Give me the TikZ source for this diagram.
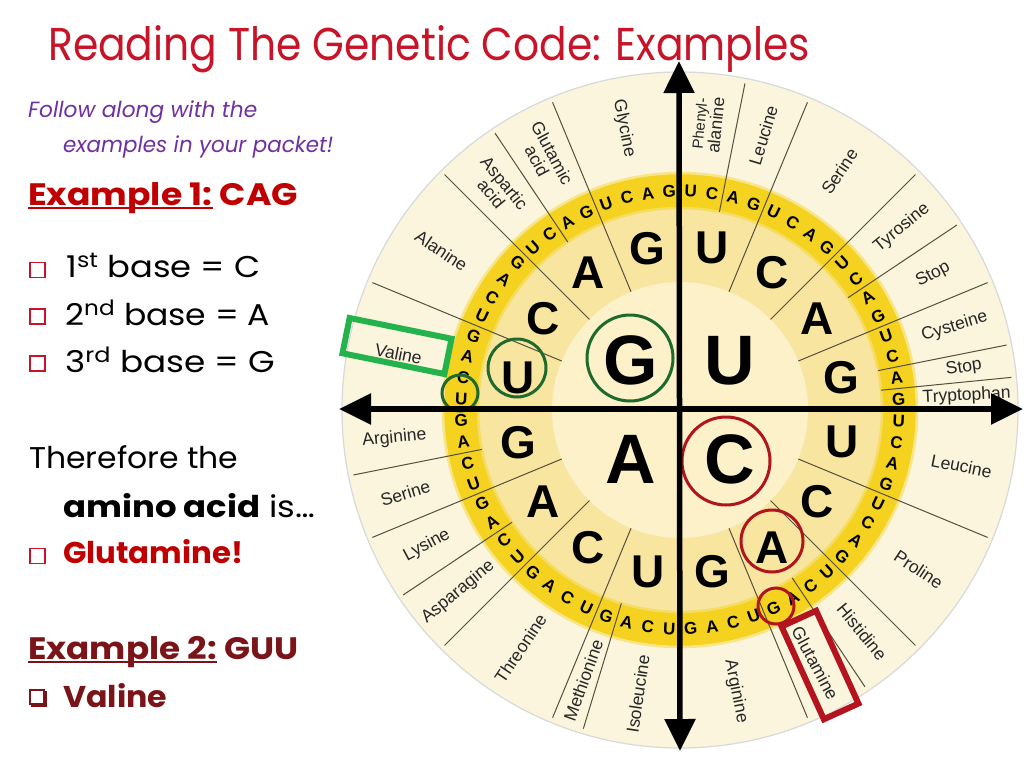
\documentclass[tikz,border=0pt]{standalone}
\usepackage{fontspec}
\setmainfont{Poppins}
\newfontfamily\wf{Liberation Sans}
\usetikzlibrary{arrows.meta}
\definecolor{titlered}{RGB}{200,20,40}
\definecolor{exred}{RGB}{192,0,0}
\definecolor{maroon}{RGB}{122,20,24}
\definecolor{purp}{RGB}{112,48,160}
\definecolor{outerc}{RGB}{250,245,220}
\definecolor{bandc}{RGB}{244,210,31}
\definecolor{ringc}{RGB}{248,229,160}
\definecolor{innerc}{RGB}{252,241,201}
\definecolor{divc}{RGB}{85,80,62}
\definecolor{labc}{RGB}{38,38,38}
\definecolor{gdark}{RGB}{30,105,45}
\definecolor{gbright}{RGB}{35,178,76}
\definecolor{rcirc}{RGB}{176,20,28}
\definecolor{rbox}{RGB}{180,20,30}
\newcommand\myul[1]{\setbox0=\hbox{#1}\rlap{\rule[-4pt]{\wd0}{2pt}}\box0\relax}
\newcommand\fitw[2]{\resizebox{#1}{\height}{#2}}
\tikzset{
  txt/.style={anchor=base west, inner sep=0pt},
  sqbul/.style={draw=titlered, line width=1.3pt, minimum size=15pt, inner sep=0pt},
  firstl/.style={font=\wf\bfseries\fontsize{70}{70}\selectfont, inner sep=0pt},
  secl/.style={font=\wf\bfseries\fontsize{46}{46}\selectfont, inner sep=0pt},
  thirdl/.style={font=\wf\bfseries\fontsize{17}{17}\selectfont, inner sep=0pt},
  acid/.style={font=\wf\fontsize{17.5}{17}\selectfont, text=labc, align=center, inner sep=0pt},
  divline/.style={draw=divc, line width=1pt},
  gcirc/.style={circle, draw=gdark, line width=3pt, inner sep=0pt},
  rcircle/.style={circle, draw=rcirc, line width=3pt, inner sep=0pt},
  axis/.style={line width=5.5pt, {Triangle[length=32pt,width=30pt]}-{Triangle[length=32pt,width=30pt]}}
}
\begin{document}
\begin{tikzpicture}[x=1pt,y=-1pt]
\path[use as bounding box] (0,0) rectangle (1024,768);
\fill[white] (0,0) rectangle (1024,768);

% ---------------- wheel ----------------
\begin{scope}[shift={(680,410)}, yscale=-1]
  \fill[outerc] (0,0) circle (338);
  \draw[black!15, line width=1.2pt] (0,0) circle (338);
  \fill[bandc] (0,0) circle (236);
  \draw[bandc!45!outerc, line width=2.5pt] (0,0) circle (237);
  \fill[ringc] (0,0) circle (202);
  \draw[bandc!50!ringc, line width=2.5pt] (0,0) circle (202);
  \fill[innerc] (0,0) circle (128);

  % dividing lines
  \foreach \s/\lst in {90/{2,4,8,10,12,14,15}, 0/{4,8,10,12}, -90/{3,4,8,10,12,14}, 180/{4,8,10,12}} {
    \foreach \b in \lst {
      \pgfmathsetmacro\ang{\s-5.625*\b}
      \pgfmathsetmacro\rin{mod(\b,4)==0 ? 128 : 202}
      \draw[divline] (\ang:\rin) -- (\ang:333);
    }
  }

  % bases
  \foreach \s/\q in {90/U, 0/C, -90/A, 180/G} {
    \node[firstl] (f\q) at (\s-45:70) {\q};
    \foreach \l [count=\k from 0] in {U,C,A,G} {
      \pgfmathsetmacro\ang{\s-22.5*(\k+0.5)}
      \node[secl] (s\q\l) at (\ang:165) {\l};
      \foreach \m [count=\j from 0] in {U,C,A,G} {
        \pgfmathsetmacro\tang{\s-22.5*\k-5.625*(\j+0.5)}
        \pgfmathsetmacro\rot{\tang-90*round(\tang/90)}
        \node[thirdl, rotate=\rot] (t\q\l\m) at (\tang:219) {\m};
      }
    }
  }

  % amino acids
  \foreach \s/\a/\b/\txt [count=\n] in {
    90/0/2/{\fontsize{15}{15}\selectfont Phenyl-\\alanine}, 90/2/4/Leucine, 90/4/8/Serine, 90/8/10/Tyrosine,
    90/10/12/Stop, 90/12/14/Cysteine, 90/14/15/Stop, 90/15/16/Tryptophan,
    0/0/4/Leucine, 0/4/8/Proline, 0/8/10/Histidine, 0/10/12/Glutamine, 0/12/16/Arginine,
    -90/0/3/Isoleucine, -90/3/4/Methionine, -90/4/8/Threonine, -90/8/10/Asparagine,
    -90/10/12/Lysine, -90/12/14/Serine, -90/14/16/Arginine,
    180/0/4/Valine, 180/4/8/Alanine, 180/8/10/{Aspartic\\acid},
    180/10/12/{Glutamic\\acid}, 180/12/16/Glycine} {
    \pgfmathsetmacro\lang{\s-5.625*(\a+\b)/2}
    \pgfmathsetmacro\lrot{cos(\lang)>0 ? \lang : \lang-180}
    \node[acid, rotate=\lrot] (aa\n) at (\lang:287) {\txt};
  }
\end{scope}

% ---------------- highlights ----------------
\node[gcirc, minimum size=86pt] (cg1) at (630,358) {};
\node[gcirc, minimum size=58pt] (cg2) at (517,368) {};
\node[gcirc, minimum size=36pt] (cg3) at (460,393) {};
\node[rcircle, minimum size=88pt] (cr1) at (726,461) {};
\node[rcircle, minimum size=62pt] (cr2) at (772,541) {};
\node[rcircle, minimum size=36pt] (cr3) at (776,606) {};
\node[draw=gbright, line width=6pt, minimum width=104pt, minimum height=36pt, rotate=-11.5, inner sep=0pt] (valbox) at (397,346) {};
\node[draw=rbox, line width=6pt, minimum width=102pt, minimum height=38pt, rotate=-65.5, inner sep=0pt] (glnbox) at (820,665) {};

% ---------------- axes ----------------
\coordinate (vt) at (679,61);
\coordinate (vb) at (680,751);
\coordinate (hl) at (339,409);
\coordinate (hr) at (1023,409);
\draw[axis] (vb) -- (vt);
\draw[axis] (hl) -- (hr);

% ---------------- left text ----------------
\node[txt, text=titlered, font=\fontsize{46}{46}\selectfont] (title) at (48,60) {\fitw{762pt}{Reading The Genetic Code: Examples}};
\node[txt, text=purp, font=\fontsize{22}{22}\selectfont\itshape] (f1) at (28,117) {\fitw{229pt}{Follow along with the}};
\node[txt, text=purp, font=\fontsize{22}{22}\selectfont\itshape] (f2) at (63,152) {\fitw{270pt}{examples in your packet!}};
\node[txt, text=exred, font=\fontsize{31}{31}\selectfont\bfseries] (ex1) at (28,205) {\fitw{270pt}{\myul{Example 1:} CAG}};

\node[sqbul] (b1) at (37.5,270) {};
\node[sqbul] (b2) at (37.5,316.5) {};
\node[sqbul] (b3) at (37.5,363.5) {};
\node[txt, font=\fontsize{30}{30}\selectfont] (l1) at (66,277) {\fitw{194pt}{1\textsuperscript{st} base = C}};
\node[txt, font=\fontsize{30}{30}\selectfont] (l2) at (65,325) {\fitw{205pt}{2\textsuperscript{nd} base = A}};
\node[txt, font=\fontsize{30}{30}\selectfont] (l3) at (65,372) {\fitw{210pt}{3\textsuperscript{rd} base = G}};

\node[txt, font=\fontsize{30}{30}\selectfont] (th) at (29,468) {\fitw{209pt}{Therefore the}};
\node[txt, font=\fontsize{30}{30}\selectfont] (am) at (63,517) {\fitw{252pt}{{\bfseries amino acid} is…}};
\node[sqbul] (b4) at (37.5,556) {};
\node[txt, text=exred, font=\fontsize{30}{30}\selectfont\bfseries] (gl) at (63,563) {\fitw{180pt}{Glutamine!}};

\node[txt, text=maroon, font=\fontsize{31}{31}\selectfont\bfseries] (ex2) at (28,659) {\fitw{270pt}{\myul{Example 2:} GUU}};
\node[draw=maroon, line width=1.2pt, minimum size=14pt, inner sep=0pt] (b5) at (37,697) {};
\draw[maroon, line width=2.6pt] ([xshift=2pt,yshift=-1.2pt]b5.south west) -- ([xshift=1.2pt,yshift=-1.2pt]b5.south east) -- ([xshift=1.2pt,yshift=-2pt]b5.north east);
\node[txt, text=maroon, font=\fontsize{30}{30}\selectfont\bfseries] (va) at (63,707) {\fitw{104pt}{Valine}};
\end{tikzpicture}
\end{document}
